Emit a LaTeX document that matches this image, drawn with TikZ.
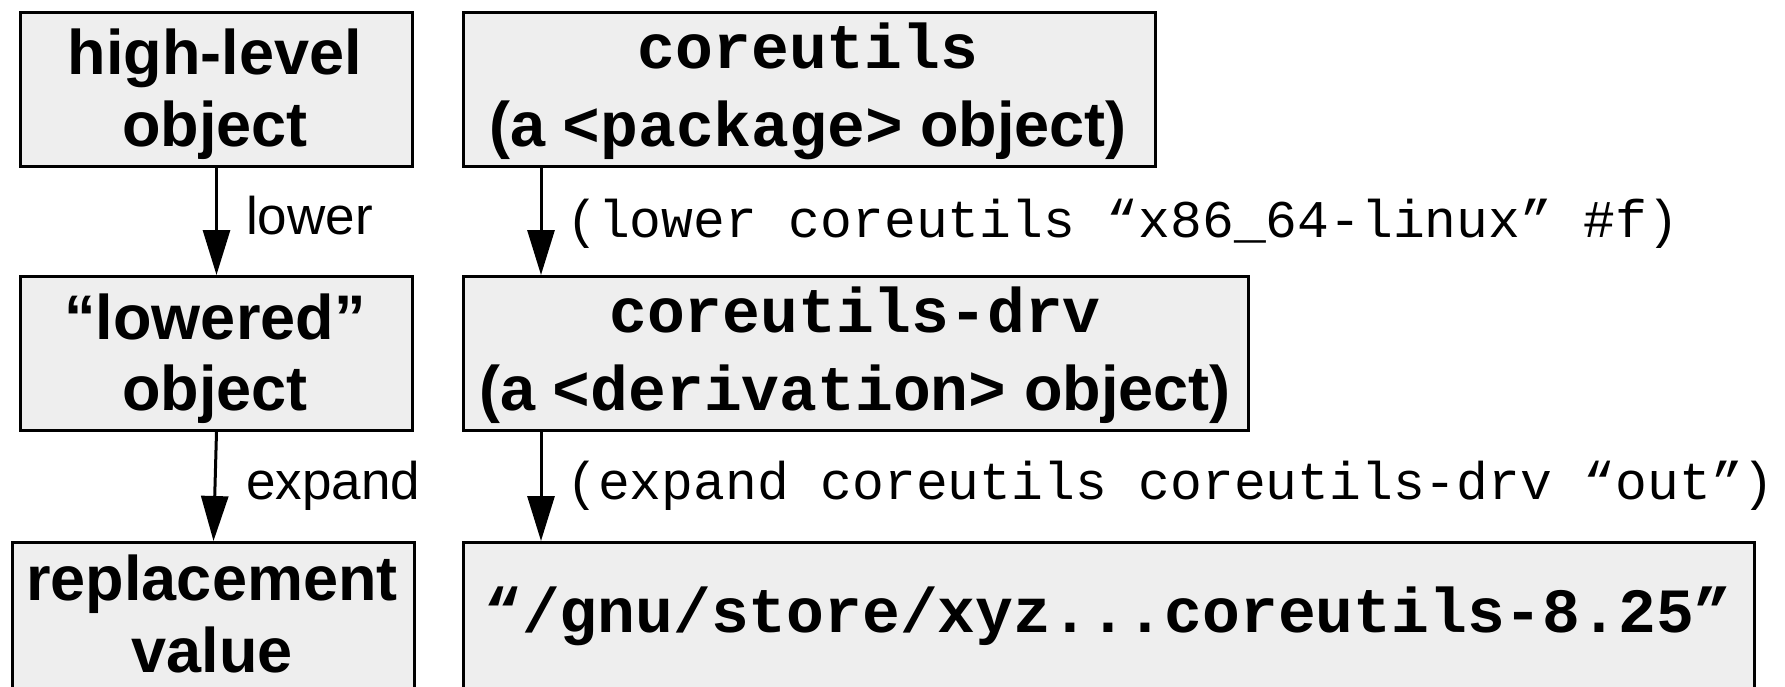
\documentclass[tikz,border=0pt]{standalone}
\usepackage{fontspec}
\setmainfont{Liberation Sans}
\newfontfamily\monofont{Liberation Mono}
\usetikzlibrary{arrows.meta}
\definecolor{boxgray}{HTML}{EEEEEE}
\begin{document}
\begin{tikzpicture}[x=1pt,y=-1pt,
  box/.style={draw, line width=3pt, fill=boxgray, rectangle, inner sep=0pt, anchor=north west},
  big/.style={font=\fontsize{63}{72}\selectfont\bfseries, anchor=base, inner sep=0pt},
  bigmono/.style={font=\fontsize{63}{72}\selectfont\monofont\bfseries, anchor=base, inner sep=0pt},
  lab/.style={font=\fontsize{53}{60}\selectfont, anchor=base west, inner sep=0pt},
  labmono/.style={font=\fontsize{53}{60}\selectfont\monofont, anchor=base west, inner sep=0pt},
  arr/.style={line width=3pt, -{Triangle[length=45pt,width=27pt]}}]
\path[use as bounding box, clip] (0,0) rectangle (1785,686);
\fill[white] (0,0) rectangle (1785,686);
% boxes
\node[box, minimum width=392pt, minimum height=154pt] (hl) at (19,11) {};
\node[box, minimum width=692pt, minimum height=154pt] (pkg) at (462,11) {};
\node[box, minimum width=392pt, minimum height=154pt] (lw) at (19,275) {};
\node[box, minimum width=785pt, minimum height=154pt] (drv) at (462,275) {};
\node[box, minimum width=402pt, minimum height=170pt] (rv) at (11,541) {};
\node[box, minimum width=1291pt, minimum height=170pt] (out) at (462,541) {};
% box texts
\node[big] (hlA) at (215,74) {high-level};
\node[big] (hlB) at (215,146) {object};
\node[bigmono] (pkgA) at (808,68) {coreutils};
\node[big] (pkgB) at (808,146) {(a {\monofont <package>} object)};
\node[big] (lwA) at (215,339) {“lowered”};
\node[big] (lwB) at (215,410) {object};
\node[bigmono] (drvA) at (855,332) {coreutils-drv};
\node[big] (drvB) at (855,410) {(a {\monofont <derivation>} object)};
\node[big] (rvA) at (212,600) {replacement};
\node[big] (rvB) at (212,672) {value};
\node[bigmono] (outA) at (1108,632) {“/gnu/store/xyz...coreutils-8.25”};
% connectors
\draw[arr] (hl.south) -- (lw.north);
\draw[arr] (lw.south) -- (rv.north);
\draw[arr] ([xshift=79pt]pkg.south west) -- ([xshift=79pt]drv.north west);
\draw[arr] ([xshift=79pt]drv.south west) -- ([xshift=79pt]out.north west);
% labels
\node[lab] (l1) at (246,234) {lower};
\node[lab] (l2) at (246,499) {expand};
\node[labmono] (m1) at (566,237) {(lower coreutils “x86\_64-linux” \#f)};
\node[labmono] (m2) at (566,499) {(expand coreutils coreutils-drv “out”)};
\end{tikzpicture}
\end{document}
